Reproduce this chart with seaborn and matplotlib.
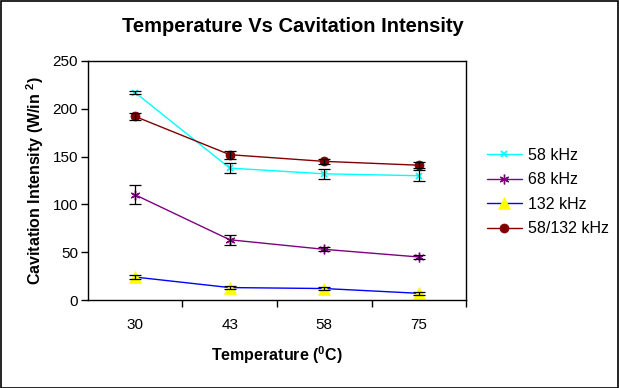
import matplotlib
matplotlib.use("Agg")
import matplotlib.pyplot as plt
import seaborn as sns
import pandas as pd
from matplotlib.patches import Rectangle

# ---- data ----
temps = ['30', '43', '58', '75']
series_names = ['58 kHz', '68 kHz', '132 kHz', '58/132 kHz']

khz58 = [217, 138, 132, 130]
khz58_err = [2, 5, 5, 6]
khz68 = [110, 63, 53, 45]
khz68_err = [10, 5, 2, 2]
khz132 = [24, 13, 12, 7]
khz132_err = [2, 1.5, 1.5, 1.5]
khz58_132 = [192, 152, 145, 141]
khz58_132_err = [4, 4, 3, 3]

values = [khz58, khz68, khz132, khz58_132]
errors = [khz58_err, khz68_err, khz132_err, khz58_132_err]

# line colour, marker, marker face, marker edge, marker size
styles = {
    '58 kHz': dict(color='#00FFFF', marker='x', mfc='#00FFFF', mec='#00FFFF', ms=5, mew=1.3),
    '68 kHz': dict(color='#800080', marker=(6, 2, 0), mfc='#800080', mec='#800080', ms=7, mew=1.0),
    '132 kHz': dict(color='#0000FF', marker='^', mfc='#FFFF00', mec='#FFFF00', ms=8, mew=0.5),
    '58/132 kHz': dict(color='#800000', marker='o', mfc='#800000', mec='#800000', ms=6.5, mew=0.5),
}

sns.set_style("ticks")
plt.rcParams['font.family'] = ['Liberation Sans', 'DejaVu Sans']
plt.rcParams['mathtext.fontset'] = 'custom'
plt.rcParams['mathtext.rm'] = 'Liberation Sans'
plt.rcParams['mathtext.bf'] = 'Liberation Sans:bold'
plt.rcParams['text.color'] = 'black'
plt.rcParams['axes.labelcolor'] = 'black'
plt.rcParams['xtick.color'] = 'black'
plt.rcParams['ytick.color'] = 'black'

fig = plt.figure(figsize=(6.19, 3.88), dpi=100)
ax = fig.add_axes([0.142, 0.2268, 0.611, 0.616])

for name, vals, errs in zip(series_names, values, errors):
    st = styles[name]
    df = pd.DataFrame({'Temperature': temps, 'Intensity': vals})
    sns.lineplot(data=df, x='Temperature', y='Intensity', ax=ax, sort=False,
                 color=st['color'], marker=st['marker'], markerfacecolor=st['mfc'],
                 markeredgecolor=st['mec'], markersize=st['ms'], markeredgewidth=st['mew'],
                 linewidth=1.0, label=name)
    ax.errorbar(temps, vals, yerr=errs, fmt='none', ecolor='black',
                elinewidth=0.9, capsize=4, capthick=0.9, zorder=3)

ax.set_xlim(-0.5, 3.5)
ax.set_ylim(0, 250)
ax.set_yticks(range(0, 251, 50))
ax.set_xticks([0.5, 1.5, 2.5, 3.5], minor=True)
ax.tick_params(axis='x', which='major', length=0, pad=13, labelsize=11)
ax.tick_params(axis='x', which='minor', length=5, width=1, direction='out')
ax.tick_params(axis='y', length=5, width=1, direction='out', labelsize=11, pad=2)

for sp in ax.spines.values():
    sp.set_linewidth(1)
    sp.set_color('black')

ax.set_xlabel('Temperature ($\\mathregular{^0}$C)', fontsize=11.5, fontweight='bold', labelpad=9)
ax.set_ylabel('Cavitation Intensity (W/in $\\mathregular{^2}$)', fontsize=11.5, fontweight='bold', labelpad=5)

fig.text(293 / 619, 0.932, 'Temperature Vs Cavitation Intensity', ha='center', va='center',
         fontsize=14.5, fontweight='bold')

ax.legend(loc='center left', bbox_to_anchor=(0.776, 0.505), bbox_transform=fig.transFigure,
          frameon=False, fontsize=11.5, handlelength=2.2, handletextpad=0.4,
          labelspacing=0.6, borderaxespad=0)

fig.patches.append(Rectangle((0.001, 0.001), 0.997, 0.997, transform=fig.transFigure,
                             fill=False, edgecolor='black', linewidth=1.2))

fig.savefig('out.png', dpi=100)
